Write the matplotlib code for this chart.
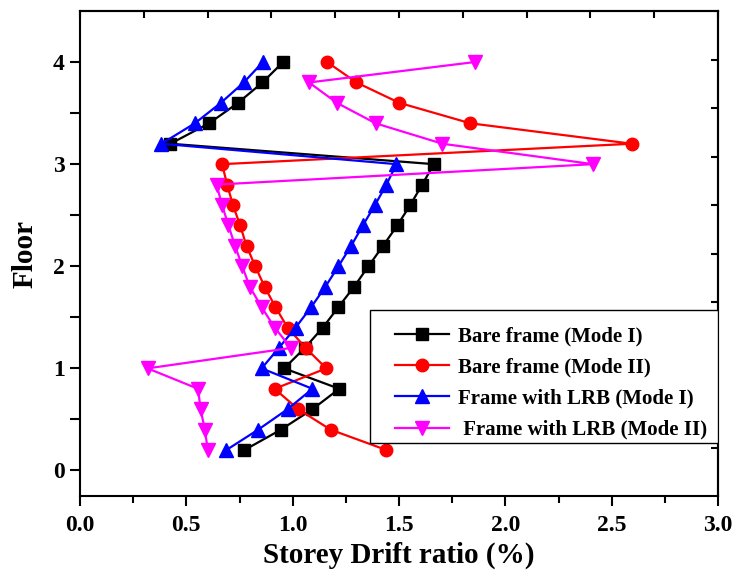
import numpy as np
import matplotlib
matplotlib.use('Agg')
import matplotlib.pyplot as plt
from matplotlib.patches import Rectangle

plt.rcParams['font.family'] = ['Liberation Serif', 'DejaVu Serif']
plt.rcParams['font.weight'] = 'bold'

# floor level of every point (storey and sub-points)
floors = [0.2, 0.4, 0.6, 0.8, 1.0, 1.2, 1.4, 1.6, 1.8, 2.0,
          2.2, 2.4, 2.6, 2.8, 3.0, 3.2, 3.4, 3.6, 3.8, 4.0]

# storey drift ratio (%)
bare_mode1 = [0.773, 0.945, 1.093, 1.219, 0.960, 1.057, 1.142, 1.215, 1.289, 1.356,
              1.425, 1.492, 1.553, 1.609, 1.664, 0.425, 0.607, 0.743, 0.858, 0.955]
bare_mode2 = [1.441, 1.178, 1.026, 0.915, 1.158, 1.061, 0.976, 0.919, 0.868, 0.824,
              0.783, 0.753, 0.719, 0.692, 0.668, 2.595, 1.836, 1.502, 1.300, 1.162]
lrb_mode1 = [0.688, 0.838, 0.976, 1.093, 0.854, 0.935, 1.014, 1.087, 1.154, 1.215,
             1.275, 1.330, 1.387, 1.441, 1.488, 0.383, 0.540, 0.662, 0.770, 0.860]
lrb_mode2 = [0.601, 0.587, 0.567, 0.555, 0.318, 0.992, 0.915, 0.854, 0.798, 0.763,
             0.729, 0.698, 0.668, 0.642, 2.413, 1.704, 1.390, 1.208, 1.077, 1.856]

labels = ['Bare frame (Mode I)', 'Bare frame (Mode II)',
          'Frame with LRB (Mode I)', ' Frame with LRB (Mode II)']

fig = plt.figure(figsize=(7.35, 5.75), dpi=100)
ax = fig.add_axes([80/735, 1-496/575, 638/735, 485/575])

ax.plot(bare_mode1, floors, '-s', color='black', lw=1.6, ms=8, label=labels[0])
ax.plot(bare_mode2, floors, '-o', color='red', lw=1.6, ms=9, label=labels[1])
ax.plot(lrb_mode1, floors, '-^', color='blue', lw=1.6, ms=9.5, label=labels[2])
ax.plot(lrb_mode2, floors, '-v', color='magenta', lw=1.6, ms=9.5, label=labels[3])

ax.set_xlim(0, 3.0)
ax.set_ylim(-0.25, 4.5)
ax.set_xticks(np.arange(0, 3.01, 0.5))
ax.set_xticks(np.arange(0, 3.01, 0.25), minor=True)
ax.set_yticks([0, 1, 2, 3, 4])
ax.set_yticks([0.5, 1.5, 2.5, 3.5], minor=True)
ax.xaxis.set_major_formatter(matplotlib.ticker.FormatStrFormatter('%.1f'))

ax.tick_params(axis='both', which='major', direction='out', length=7, width=1.5,
               labelsize=17, top=False, right=False)
ax.tick_params(axis='x', which='minor', direction='out', length=5, width=1.5, top=False)
ax.tick_params(axis='y', which='minor', direction='out', length=7, width=1.5, right=False)
ax.tick_params(axis='y', pad=4)
ax.tick_params(axis='x', pad=7)
for s in ax.spines.values():
    s.set_linewidth(1.5)

# opposite axes carry their own evenly spaced ticks (no labels)
top = ax.secondary_xaxis('top')
top.set_xticks(np.linspace(0, 3.0, 11))
top.tick_params(direction='in', length=5, width=1.5, labeltop=False)
top.spines['top'].set_linewidth(1.5)
right = ax.secondary_yaxis('right')
right.set_yticks(np.linspace(-0.25, 4.5, 11)[1:-1])
right.tick_params(direction='in', length=5, width=1.5, labelright=False)
right.spines['right'].set_linewidth(1.5)

ax.set_xlabel('Storey Drift ratio (%)', fontsize=21, fontweight='bold', labelpad=4)
ax.set_ylabel('Floor', fontsize=21, fontweight='bold', labelpad=10)

# legend box reaches the right axis, text sits low in it
ax.add_patch(Rectangle((290/638, 53/485), 348/638, 133/485, transform=ax.transAxes,
                       facecolor='white', edgecolor='black', lw=1.0, zorder=4))
leg = ax.legend(loc='lower left', bbox_to_anchor=(312/638, 53/485),
                frameon=False, prop={'size': 15, 'weight': 'bold'},
                handlelength=2.6, handletextpad=0.4, borderpad=0.15,
                labelspacing=0.54, borderaxespad=0, numpoints=1)
leg.set_zorder(5)

fig.savefig('out.png', dpi=100)
